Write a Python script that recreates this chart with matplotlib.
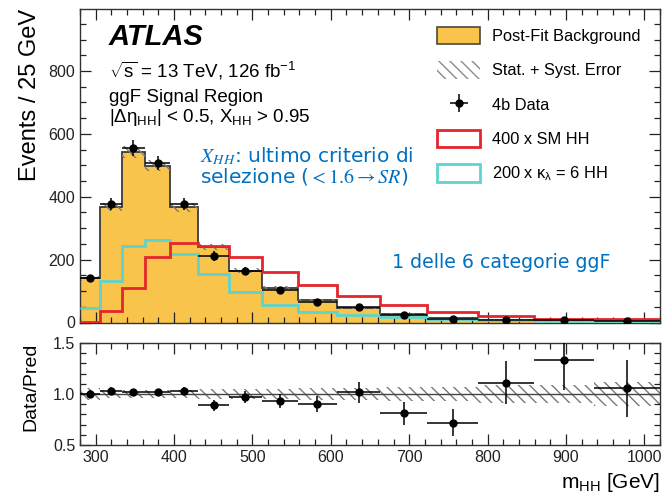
import numpy as np
import matplotlib
matplotlib.use("Agg")
import matplotlib.pyplot as plt
from matplotlib.patches import Patch
from matplotlib.ticker import MultipleLocator, FormatStrFormatter
from matplotlib.container import ErrorbarContainer
from matplotlib.legend_handler import HandlerErrorbar

plt.rcParams['font.family'] = ['Liberation Sans', 'DejaVu Sans']
plt.rcParams['mathtext.fontset'] = 'custom'
plt.rcParams['mathtext.rm'] = 'Liberation Sans'
plt.rcParams['mathtext.it'] = 'Liberation Sans:italic'
plt.rcParams['mathtext.bf'] = 'Liberation Sans:bold'
plt.rcParams['hatch.linewidth'] = 1.0

# m_HH binning [GeV]
bin_edges = [280, 305, 333, 363, 395, 431, 470, 512, 558, 608, 663, 723, 788, 859, 936, 1020]

# post-fit background, signals and data per bin
background = [140, 366, 543, 499, 366, 240, 165, 111, 72, 47, 27, 13, 8, 5, 4.5]
bkg_rel_err = [0.06, 0.035, 0.035, 0.035, 0.04, 0.045, 0.05, 0.05, 0.055, 0.06, 0.065, 0.07, 0.085, 0.09, 0.12]
sm_hh_x400 = [3, 38, 111, 209, 252, 244, 208, 160, 119, 84, 56, 34, 21, 12, 12]
kl6_hh_x200 = [47, 132, 243, 262, 218, 154, 96, 56, 34, 24, 16, 11, 7, 5, 4]
data_4b = [140, 378, 555, 508, 377, 211, 163, 104, 65, 48, 24, 10, 9, 7, 5]
data_4b_err = [12, 19, 24, 22, 19, 15, 13, 10, 8, 7, 5, 3, 3, 3, 2]

# Data/Pred ratio
ratio = [1.0, 1.03, 1.016, 1.016, 1.03, 0.89, 0.97, 0.93, 0.905, 1.016, 0.81, 0.72, 1.11, 1.33, 1.055]
ratio_err = [0.04, 0.035, 0.03, 0.03, 0.035, 0.055, 0.055, 0.07, 0.08, 0.10, 0.11, 0.135, 0.21, 0.29, 0.28]

YELLOW = '#F8C44C'
RED = '#E3262B'
CYAN = '#5ED3CF'
BLUE = '#0070C0'
HATCH = '\\\\\\'

edges = np.array(bin_edges, dtype=float)
centers = 0.5 * (edges[:-1] + edges[1:])
halfw = 0.5 * np.diff(edges)
bkg = np.array(background)
bkg_err = bkg * np.array(bkg_rel_err)

fig = plt.figure(figsize=(6.66, 4.96), dpi=100)
ax = fig.add_axes([80 / 666, 1 - 322.5 / 496, 580 / 666, 313.5 / 496])
axr = fig.add_axes([80 / 666, 1 - 445 / 496, 580 / 666, 102 / 496])

# main panel
ax.stairs(bkg, edges, fill=True, facecolor=YELLOW, linewidth=0, zorder=1)
ax.stairs(bkg, edges, color='#3a3a3a', linewidth=1.3, zorder=2)
ax.stairs(bkg + bkg_err, edges, baseline=bkg - bkg_err, fill=True, facecolor='none',
          edgecolor='#7a7a7a', hatch=HATCH, linewidth=0, zorder=2.5)
ax.stairs(kl6_hh_x200, edges, color=CYAN, linewidth=2.0, baseline=None, zorder=3)
ax.stairs(sm_hh_x400, edges, color=RED, linewidth=2.0, baseline=None, zorder=3.5)
eb = ax.errorbar(centers, data_4b, xerr=halfw, yerr=data_4b_err, fmt='o', color='black',
                 markersize=5, elinewidth=1.1, capsize=0, zorder=5)

ax.set_xlim(280, 1020)
ax.set_ylim(0, 997)
ax.xaxis.set_major_locator(MultipleLocator(100))
ax.xaxis.set_minor_locator(MultipleLocator(20))
ax.yaxis.set_major_locator(MultipleLocator(200))
ax.yaxis.set_minor_locator(MultipleLocator(50))
ax.tick_params(which='both', direction='in', top=True, right=True, labelbottom=False,
               labelsize=11.5, colors='#222222')
ax.tick_params(which='major', length=8, width=0.9)
ax.tick_params(which='minor', length=4.5, width=0.9)
ax.set_ylabel('Events / 25 GeV', loc='top', fontsize=17)
ax.yaxis.set_label_coords(-0.067, 1.0)

ax.text(0.05, 0.884, 'ATLAS', transform=ax.transAxes, fontsize=21,
        fontweight='bold', fontstyle='italic')
ax.text(0.05, 0.780, r'$\sqrt{\mathrm{s}}$ = 13 TeV, 126 fb$^{-1}$', transform=ax.transAxes, fontsize=13.5)
ax.text(0.05, 0.703, 'ggF Signal Region', transform=ax.transAxes, fontsize=13.5)
ax.text(0.05, 0.638, r'|Δη$_{\mathrm{HH}}$| < 0.5, X$_{\mathrm{HH}}$ > 0.95', transform=ax.transAxes, fontsize=13.5)

ax.text(0.207, 0.512, r'$X_{HH}$: ultimo criterio di', transform=ax.transAxes, fontsize=14.5,
        color=BLUE, family='DejaVu Sans', math_fontfamily='stix')
ax.text(0.207, 0.448, r'selezione ($< 1.6 \rightarrow SR$)', transform=ax.transAxes, fontsize=14.5,
        color=BLUE, family='DejaVu Sans', math_fontfamily='stix')
ax.text(0.538, 0.174, '1 delle 6 categorie ggF', transform=ax.transAxes, fontsize=13.7,
        color=BLUE, family='DejaVu Sans')

handles = [
    Patch(facecolor=YELLOW, edgecolor='#4a4a3a', linewidth=1.2),
    Patch(facecolor='white', edgecolor='#8a8a8a', hatch=HATCH, linewidth=0),
    eb,
    Patch(facecolor='none', edgecolor=RED, linewidth=2.0),
    Patch(facecolor='none', edgecolor=CYAN, linewidth=2.0),
]
labels = ['Post-Fit Background', 'Stat. + Syst. Error', '4b Data', '400 x SM HH',
          r'200 x $\mathrm{κ_{λ}}$ = 6 HH']
ax.legend(handles, labels, loc='upper left', bbox_to_anchor=(0.6155, 0.943), frameon=False,
          fontsize=11.8, borderpad=0, borderaxespad=0, handlelength=2.65, handleheight=1.25,
          labelspacing=1.04, handletextpad=0.72,
          handler_map={ErrorbarContainer: HandlerErrorbar(xerr_size=0.55)})

# ratio panel
band = np.array(bkg_rel_err)
axr.stairs(1 + band, edges, baseline=1 - band, fill=True, facecolor='none',
           edgecolor='#7a7a7a', hatch=HATCH, linewidth=0, zorder=1)
axr.axhline(1.0, color='#444444', linewidth=1.0, zorder=2)
axr.errorbar(centers, ratio, xerr=halfw, yerr=ratio_err, fmt='o', color='black',
             markersize=5, elinewidth=1.1, capsize=0, zorder=5)
axr.set_xlim(280, 1020)
axr.set_ylim(0.5, 1.5)
axr.xaxis.set_major_locator(MultipleLocator(100))
axr.xaxis.set_minor_locator(MultipleLocator(20))
axr.yaxis.set_major_locator(MultipleLocator(0.5))
axr.yaxis.set_minor_locator(MultipleLocator(0.1))
axr.yaxis.set_major_formatter(FormatStrFormatter('%.1f'))
axr.tick_params(which='both', direction='in', top=True, right=True, labelsize=11.5, colors='#222222')
axr.tick_params(which='major', length=8, width=0.9)
axr.tick_params(which='minor', length=4.5, width=0.9)
axr.set_ylabel('Data/Pred', loc='top', fontsize=14)
axr.yaxis.set_label_coords(-0.0707, 1.0)
axr.set_xlabel(r'm$_{\mathrm{HH}}$ [GeV]', loc='right', fontsize=15)
axr.xaxis.set_label_coords(1.0, -0.25)

for a in (ax, axr):
    for s in a.spines.values():
        s.set_linewidth(1.0)
        s.set_color('#333333')

fig.savefig('out.png', dpi=100)
